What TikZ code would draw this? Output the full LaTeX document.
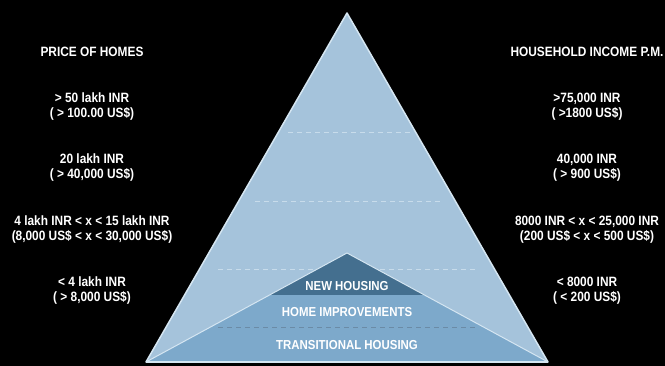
\documentclass[tikz,border=0pt]{standalone}
\usepackage{fontspec}
\setmainfont{Liberation Sans}[FakeStretch=0.88]
\definecolor{pyrfill}{HTML}{A5C3DB}
\definecolor{pyredge}{HTML}{D5E6F2}
\definecolor{lowfill}{HTML}{7DA9CB}
\definecolor{newfill}{HTML}{446F8F}
\definecolor{lightdash}{HTML}{C8DCEB}
\definecolor{darkdash}{HTML}{6B8BA6}
\tikzset{
  lbl/.style={text=white,font=\fontsize{13.5}{15}\selectfont\bfseries,align=center,inner sep=0pt},
  band/.style={text=white,font=\fontsize{13}{14}\selectfont\bfseries,inner sep=0pt},
  rim/.style={draw=pyredge,line width=1.5pt,line join=round}
}
\begin{document}
\begin{tikzpicture}[x=1pt,y=-1pt]
\fill[black] (0,0) rectangle (665,366);
\useasboundingbox (0,0) rectangle (665,366);

\coordinate (top) at (347,13);
\coordinate (bl) at (146,362);
\coordinate (br) at (548,362);
\coordinate (mid) at (347,253);

\filldraw[fill=pyrfill,rim] (top)--(bl)--(br)--cycle;

% level lines in the upper part
\foreach \y/\xa/\xb in {132/288/410,201/255/440,269/218/475}
{
    \draw[lightdash,line width=0.8pt,dash pattern=on 5pt off 4pt] (\xa,\y)--(\xb,\y);
}

% lower triangle and its top band
\fill[lowfill] (mid)--(bl)--(br)--cycle;
\begin{scope}
\clip (mid)--(bl)--(br)--cycle;
\fill[newfill] (146,250) rectangle (548,295);
\end{scope}
\draw[darkdash,line width=0.8pt,dash pattern=on 5pt off 4pt] (218,327)--(475,327);
\draw[pyredge,line width=1pt] (bl)--(mid)--(br);
\draw[rim] (bl)--(br);

\node[band] (newh) at (347,286) {NEW HOUSING};
\node[band] (impr) at (347,312) {HOME IMPROVEMENTS};
\node[band] (trans) at (347,345) {TRANSITIONAL HOUSING};

\node[lbl] (price) at (92,52) {PRICE OF HOMES};
\node[lbl] (income) at (587,52) {HOUSEHOLD INCOME P.M.};

\foreach \n/\y/\ptext in {1/107/{> 50 lakh INR\\( > 100.00 US\$)},
                          2/168/{20 lakh INR\\( > 40,000 US\$)},
                          3/230/{4 lakh INR < x < 15 lakh INR\\(8,000 US\$ < x < 30,000 US\$)},
                          4/291/{< 4 lakh INR\\( > 8,000 US\$)}}
{
    \node[lbl] (price\n) at (92,\y) {\ptext};
}
\foreach \n/\y/\itext in {1/107/{>75,000 INR\\( >1800 US\$)},
                          2/168/{40,000 INR\\( > 900 US\$)},
                          3/230/{8000 INR < x < 25,000 INR\\(200 US\$ < x < 500 US\$)},
                          4/291/{< 8000 INR\\( < 200 US\$)}}
{
    \node[lbl] (income\n) at (587,\y) {\itext};
}
\end{tikzpicture}
\end{document}
